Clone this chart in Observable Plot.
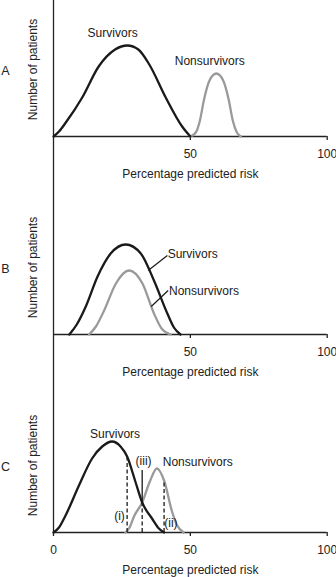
<!DOCTYPE html>
<html><head><meta charset="utf-8">
<script src="https://cdn.jsdelivr.net/npm/d3@7"></script>
<script src="https://cdn.jsdelivr.net/npm/@observablehq/plot@0.6"></script>
<style>html,body{margin:0;padding:0;background:#fff}svg{display:block}</style>
</head><body><div id="chart"></div>
<script>
// ---- data (x = percentage predicted risk, y = number of patients, arbitrary units) ----
const panelLetters = ["A", "B", "C"];
const ticksAB = [50, 100];
const ticksC = [0, 50, 100];
const xLabel = "Percentage predicted risk";
const yLabel = "Number of patients";
const seriesNames = ["Survivors", "Nonsurvivors"];
const markerNames = ["(i)", "(ii)", "(iii)"];

const survivorsA = [[0,0],[2,5],[4.5,14],[10.5,39],[16.5,70],[22.5,87],[27,91],[31,87],[35,72],[41,39],[47,10],[50,0]];
const nonsurvivorsA = [[50,0],[52,4],[53.5,16],[55,37],[57,56],[59.5,63],[62,56],[64,37],[65.5,16],[67,4],[68.5,0]];

const survivorsB = [[5.8,0],[8.5,10],[11.8,28],[16.1,58],[20.9,81],[26.4,90],[31.9,81],[36.7,54],[41.6,21],[44,7],[46.4,0]];
const nonsurvivorsB = [[13,0],[15.5,8],[18.5,24],[22.8,51],[27.6,64],[32.5,51],[36.7,21],[39.5,6],[42.8,0]];

const survivorsC = [[0,0],[2,5],[4.4,17],[9.3,47],[14.1,74],[17.8,86],[21.4,91],[24.5,86],[26.9,76],[29.9,51],[32.4,30],[36,14],[38.5,4],[40.4,0]];
const nonsurvivorsC = [[26.3,0],[27.8,5],[29.4,16],[32.4,30],[35.2,51],[37.8,64],[40.4,52],[43.3,21],[45,8],[47.5,0]];

// cut-off values in panel C: (i), (ii), (iii)
const cutoffsC = [26.9, 40.4, 32.4];

// ---- drawing ----
const BASE = 136;
const FONT = "'Liberation Sans', Arial, Helvetica, sans-serif";
const BLACK = "#1a1a1a", GREY = "#9a9a9a", AXIS = "#222";

const pts = arr => arr.map(([x, y]) => ({x, y}));
function valueAt(series, x) {
  for (let i = 1; i < series.length; i++) {
    const [x0, y0] = series[i - 1], [x1, y1] = series[i];
    if (x >= x0 && x <= x1) return y0 + (y1 - y0) * (x - x0) / (x1 - x0);
  }
  return 0;
}

function panel(cfg) {
  const {letter, height, surv, non, ticks, axisBottom, extra = []} = cfg;
  return Plot.plot({
    width: 336, height,
    marginLeft: 53, marginRight: 9.3, marginTop: 0, marginBottom: height - BASE,
    x: {domain: [0, 100]},
    y: {domain: [0, BASE], axis: null},
    style: {fontFamily: FONT, fontSize: "12px", color: AXIS, background: "white", overflow: "visible"},
    marks: [
      Plot.ruleX([0], {y1: axisBottom, y2: BASE, stroke: AXIS, strokeWidth: 1.3}),
      Plot.ruleY([0], {stroke: AXIS, strokeWidth: 1.3}),
      Plot.axisX(ticks, {tickSize: 4, tickPadding: 9, fontSize: 12, label: null, strokeWidth: 1.3}),
      Plot.text([xLabel], {x: 50, y: -38, fontSize: 12, fill: AXIS}),
      Plot.text([yLabel], {frameAnchor: "left", textAnchor: "middle", dx: -20, dy: 1, rotate: -90, fontSize: 12, fill: AXIS}),
      Plot.text([letter], {frameAnchor: "left", textAnchor: "middle", dx: -48, dy: 2, fontSize: 12.5, fill: AXIS}),
      Plot.line(pts(non), {x: "x", y: "y", stroke: GREY, strokeWidth: 2.3, curve: "monotone-x"}),
      Plot.line(pts(surv), {x: "x", y: "y", stroke: BLACK, strokeWidth: 2.3, curve: "monotone-x"}),
      ...extra
    ]
  });
}

const txt = {fontSize: 12, fill: BLACK};
const dash = {stroke: BLACK, strokeWidth: 1.3, strokeDasharray: "4,2.5"};

const panelA = panel({
  letter: panelLetters[0], height: 198, surv: survivorsA, non: nonsurvivorsA, ticks: ticksAB, axisBottom: -62,
  extra: [
    Plot.text([seriesNames[0]], {x: 21.6, y: 103, ...txt}),
    Plot.text([seriesNames[1]], {x: 57.1, y: 75, ...txt})
  ]
});

const panelB = panel({
  letter: panelLetters[1], height: 198, surv: survivorsB, non: nonsurvivorsB, ticks: ticksAB, axisBottom: -62,
  extra: [
    Plot.link([0], {x1: 34.6, y1: 64, x2: 41.6, y2: 79, stroke: BLACK, strokeWidth: 1.2}),
    Plot.link([0], {x1: 35.7, y1: 28, x2: 41.9, y2: 44, stroke: BLACK, strokeWidth: 1.2}),
    Plot.text([seriesNames[0]], {x: 41.7, y: 80, textAnchor: "start", ...txt}),
    Plot.text([seriesNames[1]], {x: 42.2, y: 43.5, textAnchor: "start", ...txt})
  ]
});

const [ci, cii, ciii] = cutoffsC;
const panelC = panel({
  letter: panelLetters[2], height: 181, surv: survivorsC, non: nonsurvivorsC, ticks: ticksC, axisBottom: 0,
  extra: [
    Plot.ruleX([ci], {x: d => d, y1: 0, y2: valueAt(survivorsC, ci), ...dash}),
    Plot.ruleX([cii], {x: d => d, y1: 0, y2: valueAt(nonsurvivorsC, cii), ...dash}),
    Plot.ruleX([ciii], {x: d => d, y1: 0, y2: valueAt(survivorsC, ciii), ...dash}),
    Plot.ruleX([ciii], {x: d => d, y1: valueAt(survivorsC, ciii), y2: 62, stroke: BLACK, strokeWidth: 1.3}),
    Plot.text([markerNames[0]], {x: 24.1, y: 16, ...txt}),
    Plot.text([markerNames[1]], {x: 42.9, y: 9, ...txt}),
    Plot.text([markerNames[2]], {x: 32.9, y: 71, ...txt}),
    Plot.text([seriesNames[0]], {x: 22.5, y: 98, ...txt}),
    Plot.text([seriesNames[1]], {x: 52.7, y: 70, ...txt})
  ]
});

const root = document.getElementById("chart");
root.append(panelA, panelB, panelC);
</script>
</body></html>
